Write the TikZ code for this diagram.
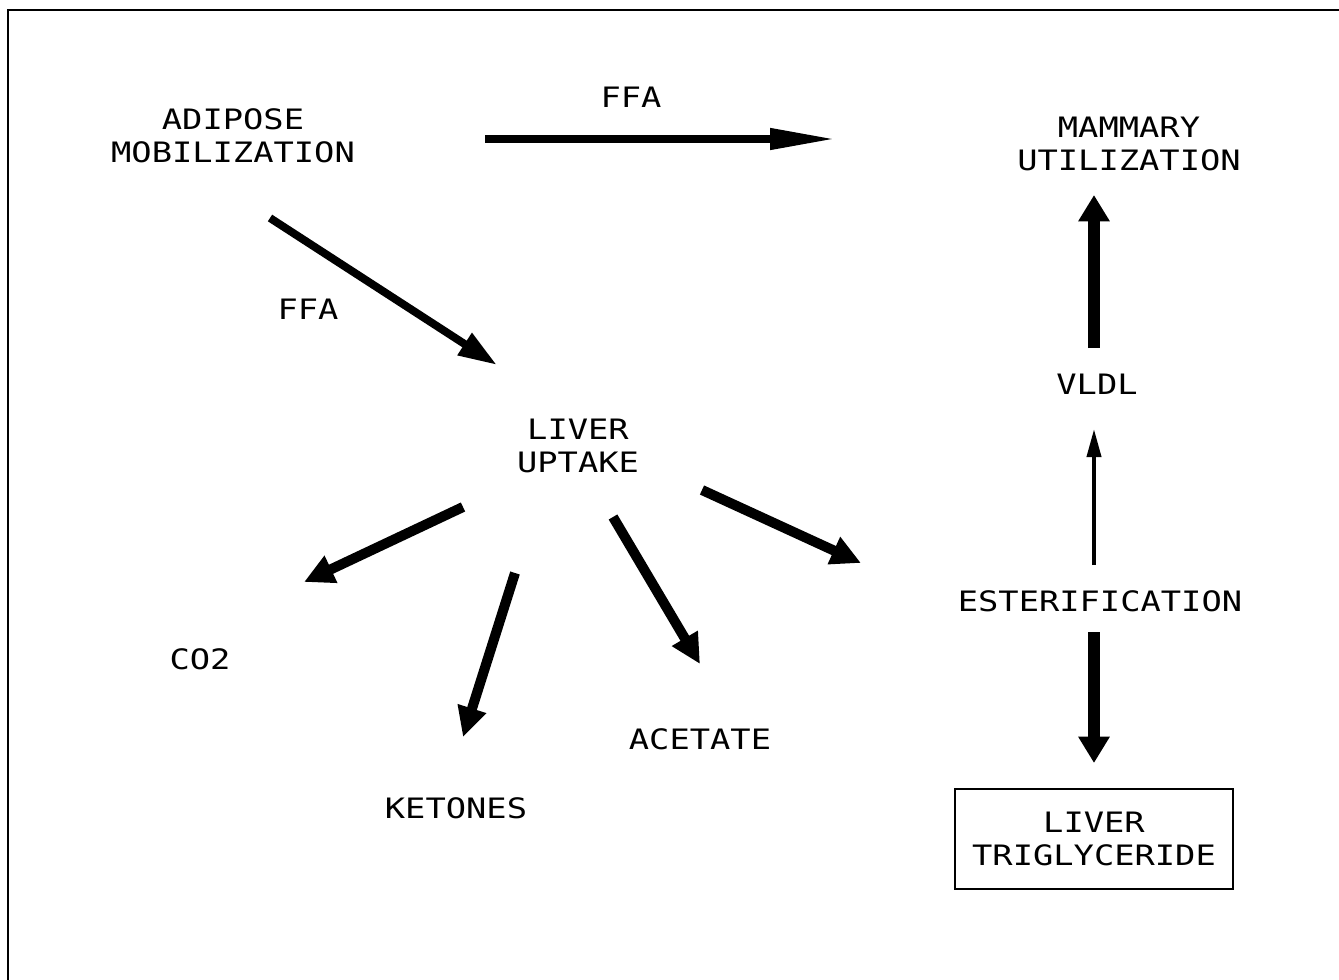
\documentclass[tikz,border=0pt]{standalone}
\usepackage{fontspec}
\usetikzlibrary{arrows.meta}
\newfontfamily\plotfont[FakeStretch=1.2]{DejaVu Sans Mono}

\tikzset{
  lbl/.style={font=\plotfont\fontsize{16}{18.7}\selectfont,align=center,inner sep=0pt},
  fluxa/.style={line width=4pt,-{Triangle[length=37pt,width=11.5pt]}},
  fluxb/.style={line width=4.5pt,-{Triangle[length=22pt,width=14pt]}},
  fluxc/.style={line width=5.7pt,-{Triangle[length=17pt,width=16pt]}},
  fluxd/.style={line width=6.4pt,-{Triangle[length=15pt,width=17pt]}},
  fluxe/.style={line width=2.2pt,-{Triangle[length=16pt,width=8pt]}}
}

\begin{document}
\begin{tikzpicture}[x=0.02cm,y=-0.02cm]
\useasboundingbox (0,0) rectangle (1339,980);
\draw[line width=1.5pt] (8,980) -- (8,10) -- (1339,10);

%% labels
\node[lbl] (adipose) at (233,136) {ADIPOSE\\MOBILIZATION};
\node[lbl] (ffatop) at (631,97) {FFA};
\node[lbl] (mammary) at (1129,144) {MAMMARY\\UTILIZATION};
\node[lbl] (ffadiag) at (308,309) {FFA};
\node[lbl] (liver) at (578,446) {LIVER\\UPTAKE};
\node[lbl] (vldl) at (1097,384) {VLDL};
\node[lbl] (ester) at (1100,601) {ESTERIFICATION};
\node[lbl] (co2) at (200,659) {CO2};
\node[lbl] (ketones) at (456,808) {KETONES};
\node[lbl] (acetate) at (700,739) {ACETATE};
\node[lbl,draw,line width=1.1pt,minimum width=5.56cm,minimum height=2cm] (livtg) at (1094,839) {LIVER\\TRIGLYCERIDE};

%% arrow ends
\coordinate (adA) at (485,139);   \coordinate (mmB) at (835,139);
\coordinate (adC) at (270,218);   \coordinate (lvD) at (497,365);
\coordinate (lvE) at (463,507);   \coordinate (coF) at (304,582);
\coordinate (lvG) at (515,573);   \coordinate (ktH) at (463,737);
\coordinate (lvI) at (613,517);   \coordinate (acJ) at (700,664);
\coordinate (lvK) at (702,490);   \coordinate (esL) at (861,563);
\coordinate (esM) at (1094,565);  \coordinate (vlN) at (1094,429);
\coordinate (vlO) at (1094,348);  \coordinate (mmP) at (1094,195);
\coordinate (esQ) at (1094,632);  \coordinate (tgR) at (1094,763);

\draw[fluxa] (adA) -- (mmB);
\draw[fluxb] (adC) -- (lvD);
\foreach \a/\b in {lvE/coF,lvG/ktH,lvI/acJ,lvK/esL}
  \draw[fluxc] (\a) -- (\b);
\draw[fluxe] (esM) -- (vlN);
\draw[fluxd] (vlO) -- (mmP);
\draw[fluxd] (esQ) -- (tgR);
\end{tikzpicture}
\end{document}
